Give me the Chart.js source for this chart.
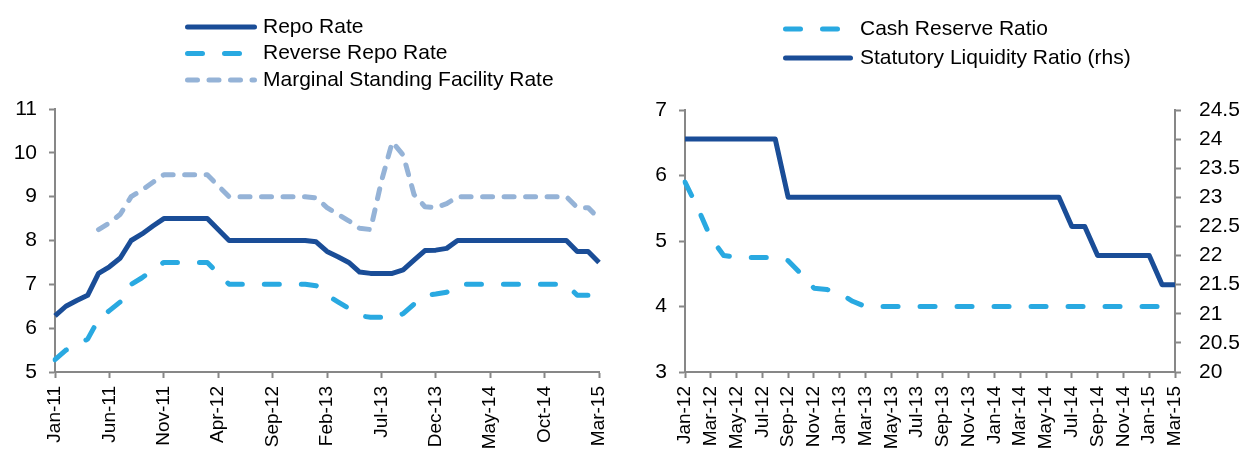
<!DOCTYPE html>
<html>
<head>
<meta charset="utf-8">
<script src="https://cdn.jsdelivr.net/npm/chart.js@4/dist/chart.umd.min.js"></script>
<style>
  html, body { margin: 0; padding: 0; background: #fff; }
  #page { position: relative; width: 1249px; height: 453px; overflow: hidden; }
  .panel { position: absolute; top: 0; height: 453px; }
  #left-panel { left: 0; width: 630px; }
  #right-panel { left: 630px; width: 619px; }
</style>
</head>
<body>
<div id="page">
  <div class="panel" id="left-panel"><canvas id="policy-rates-chart"></canvas></div>
  <div class="panel" id="right-panel"><canvas id="reserve-ratios-chart"></canvas></div>
</div>
<script>
// months shown on the left chart (Jan-11 .. Mar-15)
const rateMonths = [
  'Jan-11', 'Feb-11', 'Mar-11', 'Apr-11', 'May-11', 'Jun-11', 'Jul-11', 'Aug-11', 'Sep-11', 'Oct-11', 'Nov-11', 'Dec-11',
  'Jan-12', 'Feb-12', 'Mar-12', 'Apr-12', 'May-12', 'Jun-12', 'Jul-12', 'Aug-12', 'Sep-12', 'Oct-12', 'Nov-12', 'Dec-12',
  'Jan-13', 'Feb-13', 'Mar-13', 'Apr-13', 'May-13', 'Jun-13', 'Jul-13', 'Aug-13', 'Sep-13', 'Oct-13', 'Nov-13', 'Dec-13',
  'Jan-14', 'Feb-14', 'Mar-14', 'Apr-14', 'May-14', 'Jun-14', 'Jul-14', 'Aug-14', 'Sep-14', 'Oct-14', 'Nov-14', 'Dec-14',
  'Jan-15', 'Feb-15', 'Mar-15'
];

const repoRate = [
  6.28, 6.5, 6.63, 6.75, 7.25, 7.4, 7.6, 8.0, 8.15, 8.33, 8.5, 8.5,
  8.5, 8.5, 8.5, 8.25, 8.0, 8.0, 8.0, 8.0, 8.0, 8.0, 8.0, 8.0,
  7.97, 7.75, 7.63, 7.5, 7.28, 7.25, 7.25, 7.25, 7.33, 7.55, 7.77, 7.78,
  7.82, 8.0, 8.0, 8.0, 8.0, 8.0, 8.0, 8.0, 8.0, 8.0, 8.0, 8.0,
  7.75, 7.75, 7.5
];

const reverseRepoRate = [
  5.28, 5.5, 5.62, 5.75, 6.2, 6.4, 6.6, 7.0, 7.15, 7.33, 7.5, 7.5,
  7.5, 7.5, 7.5, 7.25, 7.0, 7.0, 7.0, 7.0, 7.0, 7.0, 7.0, 7.0,
  6.97, 6.75, 6.6, 6.45, 6.28, 6.25, 6.25, 6.25, 6.33, 6.55, 6.75, 6.78,
  6.82, 7.0, 7.0, 7.0, 7.0, 7.0, 7.0, 7.0, 7.0, 7.0, 7.0, 7.0,
  6.75, 6.75, null
];

const msfRate = [
  null, null, null, null, 8.25, 8.4, 8.6, 9.0, 9.15, 9.33, 9.5, 9.5,
  9.5, 9.5, 9.5, 9.25, 9.0, 9.0, 9.0, 9.0, 9.0, 9.0, 9.0, 9.0,
  8.97, 8.75, 8.6, 8.45, 8.28, 8.25, 9.35, 10.25, 9.95, 9.05, 8.77, 8.75,
  8.84, 9.0, 9.0, 9.0, 9.0, 9.0, 9.0, 9.0, 9.0, 9.0, 9.0, 9.0,
  8.75, 8.75, 8.5
];

// right chart starts at Jan-12
const ratioMonths = rateMonths.slice(12);

const cashReserveRatio = [
  5.9, 5.5, 5.05, 4.78, 4.75, 4.75, 4.75, 4.75, 4.7, 4.5, 4.28, 4.26,
  4.2, 4.08, 4.0, 4.0, 4.0, 4.0, 4.0, 4.0, 4.0, 4.0, 4.0, 4.0,
  4.0, 4.0, 4.0, 4.0, 4.0, 4.0, 4.0, 4.0, 4.0, 4.0, 4.0, 4.0,
  4.0, 4.0, 4.0
];

const statutoryLiquidityRatio = [
  24, 24, 24, 24, 24, 24, 24, 24, 23, 23, 23, 23,
  23, 23, 23, 23, 23, 23, 23, 23, 23, 23, 23, 23,
  23, 23, 23, 23, 23, 23, 22.5, 22.5, 22, 22, 22, 22,
  22, 21.5, 21.5
];

const rateTicks = [5, 6, 7, 8, 9, 10, 11];
const crrTicks = [3, 4, 5, 6, 7];
const slrTicks = [20, 20.5, 21, 21.5, 22, 22.5, 23, 23.5, 24, 24.5];

const DARK_BLUE = '#1A4D97';
const LIGHT_BLUE = '#29A9E1';
const STEEL_BLUE = '#95B3D7';
const AXIS_GREY = '#878787';
const FONT_FAMILY = '"Liberation Sans", Arial, sans-serif';
const LONG_DASH = [15, 22];
const SHORT_DASH = [10, 11.5];

// legend drawn as a stacked list of line samples, read from the datasets
const lineLegend = {
  id: 'lineLegend',
  afterDraw(chart, args, opts) {
    const ctx = chart.ctx;
    ctx.save();
    ctx.font = `${opts.fontSize}px ${FONT_FAMILY}`;
    ctx.textBaseline = 'middle';
    chart.data.datasets.forEach((ds, i) => {
      const y = opts.top + i * opts.rowHeight;
      ctx.beginPath();
      ctx.setLineDash(ds.borderDash || []);
      ctx.lineCap = 'round';
      ctx.lineWidth = ds.borderWidth;
      ctx.strokeStyle = ds.borderColor;
      ctx.moveTo(opts.x + 2.5, y);
      ctx.lineTo(opts.x + opts.lineLength - 2.5, y);
      ctx.stroke();
      ctx.setLineDash([]);
      ctx.fillStyle = '#000';
      ctx.fillText(ds.label, opts.x + opts.lineLength + opts.gap, y);
    });
    ctx.restore();
  }
};

function lineDataset(label, data, color, dash, axis) {
  return {
    label,
    data,
    yAxisID: axis || 'y',
    borderColor: color,
    backgroundColor: color,
    borderWidth: 5,
    borderDash: dash || [],
    borderCapStyle: dash ? 'round' : 'butt',
    borderJoinStyle: 'round',
    pointRadius: 0,
    tension: 0,
    fill: false
  };
}

function xAxis(every) {
  return {
    type: 'category',
    offset: false,
    border: { display: true, color: AXIS_GREY, width: 2 },
    grid: {
      drawOnChartArea: false,
      drawTicks: true,
      tickLength: 6,
      tickWidth: 2,
      tickColor: (ctx) => (ctx.index % every === 0 ? AXIS_GREY : 'rgba(0,0,0,0)')
    },
    ticks: {
      autoSkip: false,
      minRotation: 90,
      maxRotation: 90,
      padding: 8,
      color: '#000',
      font: { family: FONT_FAMILY, size: 19 },
      callback(value, index) {
        return index % every === 0 ? this.getLabelForValue(value) : '';
      }
    },
    afterFit(scale) {
      scale.height = 81;
      scale.paddingLeft = 0;
      scale.paddingRight = 0;
    }
  };
}

function yAxis(position, tickValues, width, padding) {
  return {
    type: 'linear',
    position,
    min: tickValues[0],
    max: tickValues[tickValues.length - 1],
    border: { display: true, color: AXIS_GREY, width: 2 },
    grid: {
      drawOnChartArea: false,
      drawTicks: true,
      tickLength: 6,
      tickWidth: 2,
      tickColor: AXIS_GREY
    },
    afterBuildTicks(scale) {
      scale.ticks = tickValues.map((value) => ({ value }));
    },
    ticks: {
      padding,
      color: '#000',
      font: { family: FONT_FAMILY, size: 21 },
      callback: (value) => String(value)
    },
    afterFit(scale) { scale.width = width; }
  };
}

function baseOptions(padding, legendOpts) {
  return {
    responsive: true,
    maintainAspectRatio: false,
    animation: false,
    layout: { padding },
    plugins: {
      legend: { display: false },
      tooltip: { enabled: false },
      lineLegend: legendOpts
    }
  };
}

function renderPolicyRates() {
  const options = baseOptions(
    { top: 109, left: 0, right: 31, bottom: 0 },
    { x: 185, top: 27, rowHeight: 26.5, lineLength: 72, gap: 6, fontSize: 21 }
  );
  options.scales = {
    x: xAxis(5),
    y: yAxis('left', rateTicks, 55, 12)
  };
  return new Chart(document.getElementById('policy-rates-chart'), {
    type: 'line',
    data: {
      labels: rateMonths,
      datasets: [
        lineDataset('Repo Rate', repoRate, DARK_BLUE),
        lineDataset('Reverse Repo Rate', reverseRepoRate, LIGHT_BLUE, LONG_DASH),
        lineDataset('Marginal Standing Facility Rate', msfRate, STEEL_BLUE, SHORT_DASH)
      ]
    },
    options,
    plugins: [lineLegend]
  });
}

function renderReserveRatios() {
  const options = baseOptions(
    { top: 110, left: 0, right: 0, bottom: 0 },
    { x: 153, top: 29, rowHeight: 29, lineLength: 70, gap: 7, fontSize: 21 }
  );
  options.scales = {
    x: xAxis(2),
    y: yAxis('left', crrTicks, 55, 12),
    y1: yAxis('right', slrTicks, 74, 18)
  };
  return new Chart(document.getElementById('reserve-ratios-chart'), {
    type: 'line',
    data: {
      labels: ratioMonths,
      datasets: [
        lineDataset('Cash Reserve Ratio', cashReserveRatio, LIGHT_BLUE, LONG_DASH, 'y'),
        lineDataset('Statutory Liquidity Ratio (rhs)', statutoryLiquidityRatio, DARK_BLUE, null, 'y1')
      ]
    },
    options,
    plugins: [lineLegend]
  });
}

renderPolicyRates();
renderReserveRatios();
</script>
</body>
</html>
